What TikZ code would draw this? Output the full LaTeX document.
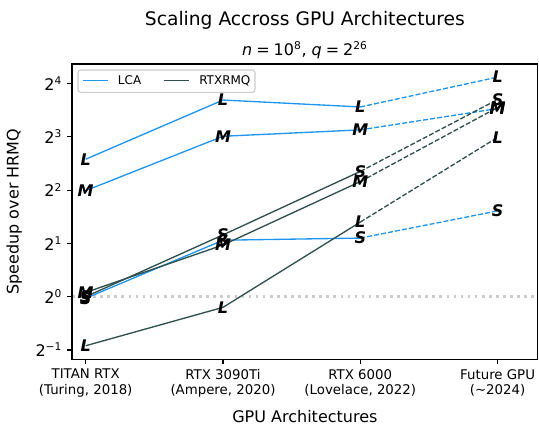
\documentclass[tikz,border=0pt]{standalone}
\usepackage{fontspec}
\setmainfont{DejaVu Sans}
\usepackage{tikz}
\usetikzlibrary{backgrounds}
\definecolor{lcablue}{HTML}{1E96F0}
\definecolor{rmqslate}{HTML}{2F4F4F}
\definecolor{gridgray}{HTML}{CCCCCC}
\definecolor{framegray}{HTML}{CCCCCC}

\begin{document}
\begin{tikzpicture}[
  x=0.75pt, y=-0.75pt,
  letter/.style={font=\fontsize{12}{12}\selectfont\bfseries\itshape, inner sep=0pt},
  lca/.style={draw=lcablue, line width=1pt},
  rmq/.style={draw=rmqslate, line width=1pt},
  guess/.style={dash pattern=on 3.7pt off 1.6pt},
  spine/.style={line width=0.8pt},
  ytick/.style={anchor=east, xshift=-3.5pt, inner sep=0pt, font=\fontsize{12}{14}\selectfont},
  xtick/.style={anchor=north, yshift=-3.5pt, inner sep=0pt, align=center, font=\fontsize{10}{11.6}\selectfont},
  legtext/.style={anchor=base west, inner sep=0pt, font=\fontsize{9}{10}\selectfont},
]
  \useasboundingbox (0,0) rectangle (539,426);

  % Title
  \node[anchor=base, font=\fontsize{14}{16}\selectfont] (title) at (304.9,25.8) {Scaling Accross GPU Architectures};
  \node[anchor=base, font=\fontsize{12}{14}\selectfont] (subtitle) at (304.9,55)
    {\textit{n}\hspace{0.25em}=\hspace{0.25em}10\textsuperscript{8}, \textit{q}\hspace{0.25em}=\hspace{0.25em}2\textsuperscript{26}};

  % Axis labels
  \node[anchor=base, font=\fontsize{12}{14}\selectfont] (xlabel) at (304.9,422) {GPU Architectures};
  \node[anchor=base, rotate=90, font=\fontsize{12}{14}\selectfont] (ylabel) at (18.7,211.7) {Speedup over HRMQ};

  % Data area: x = architecture index, y = log2(speedup)
  \begin{scope}[shift={(85.7,296.7)}, x=102.975pt, y=39.975pt]
    % Frame
    \draw[spine] (-0.1,-1.174) rectangle (3.292,4.366);

    % y ticks
    \draw[spine] (-0.1,-1) -- ++(-3.5pt,0) node[ytick] (ym1) {2\textsuperscript{−1}};
    \draw[spine] (-0.1,0) -- ++(-3.5pt,0) node[ytick] (y0) {2\textsuperscript{0}};
    \draw[spine] (-0.1,1) -- ++(-3.5pt,0) node[ytick] (y1) {2\textsuperscript{1}};
    \draw[spine] (-0.1,2) -- ++(-3.5pt,0) node[ytick] (y2) {2\textsuperscript{2}};
    \draw[spine] (-0.1,3) -- ++(-3.5pt,0) node[ytick] (y3) {2\textsuperscript{3}};
    \draw[spine] (-0.1,4) -- ++(-3.5pt,0) node[ytick] (y4) {2\textsuperscript{4}};

    % x ticks
    \draw[spine] (0,-1.174) -- ++(0,-3.5pt) node[xtick] (x0) {TITAN RTX\\(Turing, 2018)};
    \draw[spine] (1,-1.174) -- ++(0,-3.5pt) node[xtick] (x1) {RTX 3090Ti\\(Ampere, 2020)};
    \draw[spine] (2,-1.174) -- ++(0,-3.5pt) node[xtick] (x2) {RTX 6000\\(Lovelace, 2022)};
    \draw[spine] (3,-1.174) -- ++(0,-3.5pt) node[xtick] (x3) {Future GPU\\(\textasciitilde2024)};

    % LCA points
    \node[letter] (lcaL0) at (0,2.58) {L};
    \node[letter] (lcaL1) at (1,3.69) {L};
    \node[letter] (lcaL2) at (2,3.56) {L};
    \node[letter] (lcaL3) at (3,4.12) {L};
    \node[letter] (lcaM0) at (0,1.99) {M};
    \node[letter] (lcaM1) at (1,3.01) {M};
    \node[letter] (lcaM2) at (2,3.13) {M};
    \node[letter] (lcaM3) at (3,3.53) {M};
    \node[letter] (lcaS0) at (0,-0.03) {S};
    \node[letter] (lcaS1) at (1,1.06) {S};
    \node[letter] (lcaS2) at (2,1.10) {S};
    \node[letter] (lcaS3) at (3,1.61) {S};

    % RTXRMQ points
    \node[letter] (rmqL0) at (0,-0.92) {L};
    \node[letter] (rmqL1) at (1,-0.20) {L};
    \node[letter] (rmqL2) at (2,1.40) {L};
    \node[letter] (rmqL3) at (3,2.99) {L};
    \node[letter] (rmqS0) at (0,0.00) {S};
    \node[letter] (rmqS1) at (1,1.16) {S};
    \node[letter] (rmqS2) at (2,2.35) {S};
    \node[letter] (rmqS3) at (3,3.70) {S};
    \node[letter] (rmqM0) at (0,0.08) {M};
    \node[letter] (rmqM1) at (1,0.97) {M};
    \node[letter] (rmqM2) at (2,2.16) {M};
    \node[letter] (rmqM3) at (3,3.55) {M};

    \begin{scope}[on background layer]
      % Speedup of 1
      \draw[gridgray, line width=2pt, dash pattern=on 2pt off 3.3pt] (-0.1,0) -- (3.292,0);
      % LCA
      \draw[lca] (lcaL0.center) -- (lcaL1.center) -- (lcaL2.center);
      \draw[lca, guess] (lcaL2.center) -- (lcaL3.center);
      \draw[lca] (lcaM0.center) -- (lcaM1.center) -- (lcaM2.center);
      \draw[lca, guess] (lcaM2.center) -- (lcaM3.center);
      \draw[lca] (lcaS0.center) -- (lcaS1.center) -- (lcaS2.center);
      \draw[lca, guess] (lcaS2.center) -- (lcaS3.center);
      % RTXRMQ
      \draw[rmq] (rmqL0.center) -- (rmqL1.center) -- (rmqL2.center);
      \draw[rmq, guess] (rmqL2.center) -- (rmqL3.center);
      \draw[rmq] (rmqM0.center) -- (rmqM1.center) -- (rmqM2.center);
      \draw[rmq, guess] (rmqM2.center) -- (rmqM3.center);
      \draw[rmq] (rmqS0.center) -- (rmqS1.center) -- (rmqS2.center);
      \draw[rmq, guess] (rmqS2.center) -- (rmqS3.center);
    \end{scope}
  \end{scope}

  % Legend
  \draw[framegray, line width=0.8pt, rounded corners=2pt, fill=white] (78,70) rectangle (255,92.3);
  \draw[lca] (82.7,80.5) -- (107.7,80.5);
  \node[legtext] (legLCA) at (117.7,84.3) {LCA};
  \draw[rmq] (164,80.5) -- (189.3,80.5);
  \node[legtext] (legRMQ) at (199,84.3) {RTXRMQ};
\end{tikzpicture}
\end{document}
